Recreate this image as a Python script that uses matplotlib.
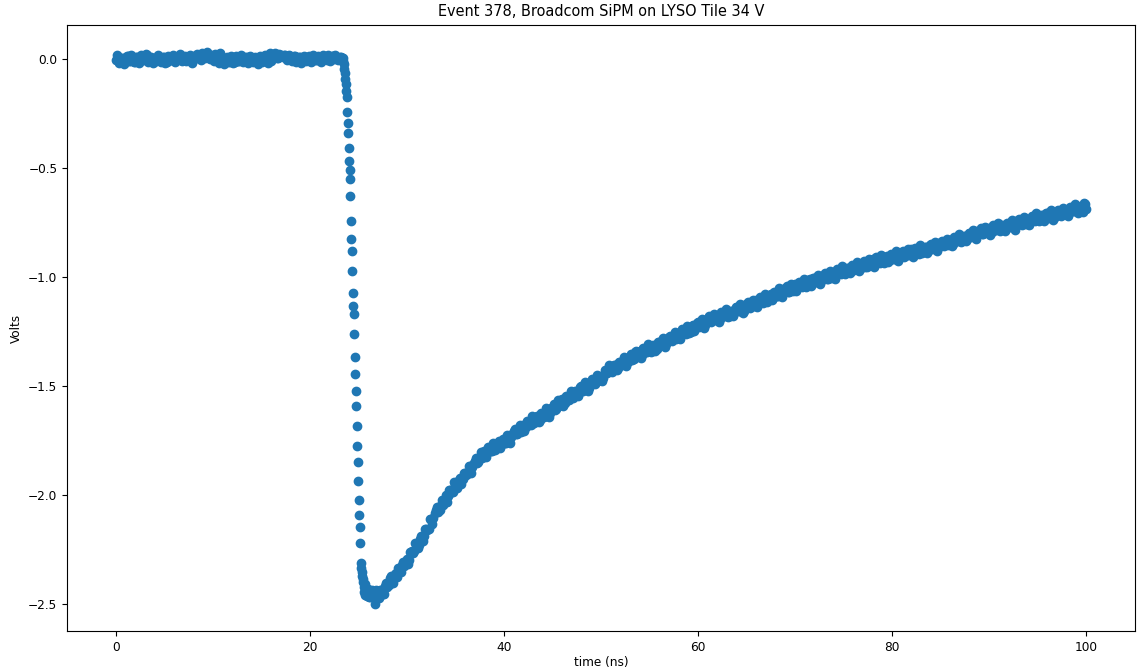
import numpy as np
import matplotlib
matplotlib.use("Agg")
import matplotlib.pyplot as plt

plt.rcParams["font.size"] = 8.7

# waveform samples (volts)
# flat baseline before the pulse, 0.25 ns steps from 0 ns
base_t0, base_dt = 0.0, 0.25
base_v = [
    -0.005, 0.010, -0.015, 0.005, -0.010, 0.012, -0.008, 0.003,
    -0.012, 0.008, -0.004, 0.015, 0.006, 0.018, -0.010, 0.004,
    -0.014, 0.002, 0.010, -0.006, 0.008, -0.012, 0.000, 0.006,
    -0.009, 0.004, 0.011, -0.003, 0.007, -0.010, 0.002, 0.009,
    -0.005, 0.012, 0.003, -0.007, 0.014, 0.004, 0.018, -0.002,
    0.010, 0.022, 0.012, 0.025, 0.005, -0.004, 0.008, -0.012,
    -0.005, -0.016, 0.003, -0.010, 0.006, -0.002, 0.009, -0.008,
    0.004, -0.006, 0.002, -0.013, 0.006, -0.004, 0.010, -0.018,
    -0.008, 0.005, 0.014, 0.004, 0.020, 0.008, 0.018, 0.002,
    0.015, 0.006, 0.012, -0.004, 0.010, 0.002, 0.008, -0.006,
    0.004, -0.009, 0.006, -0.003, 0.008, 0.000, 0.010, -0.004,
    0.006, 0.012, -0.002, 0.008, 0.003, 0.010,
]
# in-between baseline samples (0.125 ns offset)
base2_t0 = 0.125
base2_v = [
    0.020, -0.018, 0.006, -0.022, 0.014, -0.009, 0.019, -0.015, 0.008, -0.020,
    0.016, -0.004, 0.022, -0.012, 0.010, -0.019, 0.005, 0.017, -0.014, 0.009,
    -0.021, 0.013, -0.007, 0.018, -0.016, 0.003, 0.021, -0.011, 0.015, -0.006,
    0.019, -0.017, 0.012, 0.024, 0.008, 0.028, 0.016, 0.030, 0.010, 0.020,
    -0.008, 0.012, -0.020, -0.006, -0.024, 0.004, -0.015, 0.011, -0.018, 0.014,
    -0.010, 0.016, -0.013, 0.007, -0.021, 0.012, -0.016, 0.009, -0.022, 0.015,
    -0.012, 0.020, 0.010, 0.026, 0.014, 0.028, 0.006, 0.022, 0.012, 0.018,
    -0.006, 0.016, -0.010, 0.013, -0.014, 0.009, -0.017, 0.011, -0.008, 0.015,
    -0.012, 0.018, -0.005, 0.014, -0.016, 0.020, 0.004, 0.016, -0.010, 0.012,
    0.018, -0.006, 0.010,
]

# falling edge, 0.05 ns steps from 23.30 ns
edge_t0, edge_dt = 23.30, 0.05
edge_v = [
    0.004, -0.003, 0.002, -0.010, -0.025, -0.045, -0.065, -0.090, -0.115, -0.145,
    -0.177, -0.243, -0.292, -0.340, -0.409, -0.470, -0.508, -0.549, -0.630, -0.742,
    -0.824, -0.879, -0.971, -1.075, -1.131, -1.172, -1.261, -1.368, -1.445, -1.522,
    -1.591, -1.682, -1.774, -1.850, -1.937, -2.024, -2.093, -2.149, -2.218, -2.310,
    -2.335, -2.370, -2.355, -2.400, -2.385, -2.420, -2.445, -2.410, -2.460, -2.440,
    -2.425, -2.465, -2.450, -2.435,
]

# recovery tail, 0.25 ns steps from 26 ns
tail_t0, tail_dt = 26.0, 0.25
tail_v = [
    -2.430, -2.470, -2.455, -2.498, -2.470, -2.438, -2.455, -2.417,
    -2.422, -2.382, -2.391, -2.362, -2.374, -2.343, -2.322, -2.327,
    -2.294, -2.298, -2.259, -2.256, -2.226, -2.229, -2.186, -2.187,
    -2.157, -2.155, -2.110, -2.106, -2.068, -2.076, -2.045, -2.046,
    -2.002, -2.004, -1.976, -1.985, -1.953, -1.956, -1.920, -1.925,
    -1.897, -1.906, -1.869, -1.870, -1.843, -1.852, -1.826, -1.832,
    -1.796, -1.808, -1.786, -1.800, -1.774, -1.780, -1.752, -1.771,
    -1.751, -1.761, -1.730, -1.735, -1.708, -1.721, -1.699, -1.710,
    -1.679, -1.686, -1.667, -1.679, -1.646, -1.659, -1.640, -1.654,
    -1.625, -1.630, -1.608, -1.622, -1.599, -1.610, -1.581, -1.588,
    -1.562, -1.578, -1.556, -1.566, -1.534, -1.542, -1.521, -1.534,
    -1.501, -1.515, -1.494, -1.508, -1.480, -1.486, -1.463, -1.477,
    -1.453, -1.463, -1.430, -1.437, -1.412, -1.426, -1.405, -1.419,
    -1.389, -1.395, -1.373, -1.391, -1.369, -1.379, -1.346, -1.361,
    -1.341, -1.358, -1.334, -1.343, -1.317, -1.336, -1.316, -1.329,
    -1.299, -1.310, -1.291, -1.307, -1.276, -1.289, -1.269, -1.283,
    -1.255, -1.264, -1.243, -1.260, -1.238, -1.251, -1.222, -1.231,
    -1.207, -1.224, -1.205, -1.219, -1.189, -1.199, -1.180, -1.199,
    -1.179, -1.193, -1.164, -1.180, -1.161, -1.178, -1.154, -1.163,
    -1.137, -1.157, -1.139, -1.154, -1.125, -1.137, -1.119, -1.135,
    -1.104, -1.121, -1.104, -1.118, -1.090, -1.099, -1.078, -1.095,
    -1.073, -1.088, -1.060, -1.071, -1.049, -1.067, -1.050, -1.064,
    -1.034, -1.044, -1.026, -1.045, -1.024, -1.038, -1.009, -1.026,
    -1.007, -1.025, -1.003, -1.013, -0.989, -1.009, -0.991, -1.006,
    -0.977, -0.989, -0.971, -0.988, -0.958, -0.975, -0.959, -0.975,
    -0.948, -0.958, -0.939, -0.958, -0.937, -0.954, -0.928, -0.940,
    -0.919, -0.938, -0.921, -0.937, -0.909, -0.920, -0.902, -0.922,
    -0.902, -0.917, -0.888, -0.906, -0.888, -0.907, -0.886, -0.898,
    -0.874, -0.895, -0.878, -0.893, -0.865, -0.878, -0.861, -0.879,
    -0.850, -0.868, -0.852, -0.868, -0.842, -0.852, -0.833, -0.852,
    -0.831, -0.848, -0.822, -0.833, -0.812, -0.831, -0.813, -0.828,
    -0.799, -0.809, -0.790, -0.809, -0.789, -0.804, -0.776, -0.793,
    -0.776, -0.795, -0.774, -0.785, -0.761, -0.782, -0.765, -0.780,
    -0.753, -0.766, -0.750, -0.768, -0.740, -0.758, -0.742, -0.758,
    -0.732, -0.743, -0.724, -0.743, -0.723, -0.740, -0.715, -0.727,
    -0.707, -0.726, -0.710, -0.726, -0.699, -0.710, -0.693, -0.713,
    -0.694, -0.709, -0.681, -0.698, -0.681, -0.700, -0.675, -0.662,
    -0.688,
]
# in-between tail samples (0.125 ns offset)
tail2_t0 = 26.125
tail2_v = [
    -2.467, -2.437, -2.465, -2.436, -2.471, -2.436, -2.453, -2.404,
    -2.414, -2.370, -2.404, -2.360, -2.337, -2.354, -2.306, -2.316,
    -2.315, -2.260, -2.266, -2.220, -2.242, -2.200, -2.210, -2.156,
    -2.160, -2.109, -2.135, -2.084, -2.056, -2.071, -2.021, -2.031,
    -2.030, -1.975, -1.984, -1.942, -1.970, -1.932, -1.948, -1.899,
    -1.909, -1.865, -1.899, -1.855, -1.832, -1.849, -1.805, -1.822,
    -1.828, -1.781, -1.796, -1.760, -1.792, -1.760, -1.783, -1.744,
    -1.761, -1.723, -1.760, -1.719, -1.699, -1.722, -1.681, -1.701,
    -1.708, -1.661, -1.676, -1.640, -1.672, -1.640, -1.663, -1.624,
    -1.641, -1.603, -1.641, -1.603, -1.584, -1.607, -1.566, -1.586,
    -1.593, -1.546, -1.561, -1.525, -1.557, -1.525, -1.546, -1.505,
    -1.521, -1.483, -1.523, -1.487, -1.469, -1.492, -1.451, -1.471,
    -1.477, -1.427, -1.441, -1.405, -1.437, -1.405, -1.428, -1.389,
    -1.406, -1.368, -1.408, -1.372, -1.354, -1.377, -1.338, -1.360,
    -1.370, -1.325, -1.343, -1.309, -1.344, -1.314, -1.338, -1.299,
    -1.318, -1.282, -1.323, -1.287, -1.269, -1.292, -1.253, -1.275,
    -1.285, -1.240, -1.258, -1.224, -1.258, -1.226, -1.249, -1.209,
    -1.228, -1.192, -1.233, -1.197, -1.181, -1.207, -1.170, -1.194,
    -1.205, -1.162, -1.181, -1.148, -1.184, -1.154, -1.178, -1.139,
    -1.158, -1.124, -1.167, -1.132, -1.117, -1.143, -1.106, -1.128,
    -1.138, -1.094, -1.113, -1.079, -1.114, -1.084, -1.108, -1.069,
    -1.088, -1.052, -1.093, -1.058, -1.043, -1.070, -1.033, -1.055,
    -1.065, -1.022, -1.041, -1.008, -1.044, -1.016, -1.042, -1.004,
    -1.024, -0.990, -1.032, -0.998, -0.983, -1.010, -0.974, -0.997,
    -1.008, -0.964, -0.983, -0.950, -0.986, -0.958, -0.984, -0.946,
    -0.966, -0.932, -0.975, -0.940, -0.926, -0.953, -0.917, -0.941,
    -0.953, -0.910, -0.930, -0.898, -0.935, -0.907, -0.933, -0.896,
    -0.917, -0.883, -0.926, -0.893, -0.879, -0.906, -0.871, -0.896,
    -0.908, -0.865, -0.886, -0.854, -0.891, -0.863, -0.889, -0.852,
    -0.873, -0.839, -0.882, -0.848, -0.833, -0.860, -0.824, -0.847,
    -0.859, -0.816, -0.835, -0.803, -0.840, -0.811, -0.836, -0.798,
    -0.818, -0.783, -0.825, -0.791, -0.777, -0.804, -0.769, -0.793,
    -0.806, -0.763, -0.784, -0.752, -0.789, -0.761, -0.788, -0.751,
    -0.773, -0.739, -0.783, -0.749, -0.736, -0.763, -0.727, -0.751,
    -0.763, -0.720, -0.740, -0.708, -0.745, -0.717, -0.744, -0.707,
    -0.729, -0.695, -0.739, -0.705, -0.692, -0.719, -0.684, -0.708,
    -0.721, -0.678, -0.699, -0.667, -0.705, -0.677, -0.704, -0.667,
]

base_t = base_t0 + base_dt * np.arange(len(base_v))
base2_t = base2_t0 + base_dt * np.arange(len(base2_v))
edge_t = edge_t0 + edge_dt * np.arange(len(edge_v))
tail_t = tail_t0 + tail_dt * np.arange(len(tail_v))
tail2_t = tail2_t0 + tail_dt * np.arange(len(tail2_v))

time = np.concatenate([base_t, base2_t, edge_t, tail_t, tail2_t])
volts = np.concatenate([base_v, base2_v, edge_v, tail_v, tail2_v])
order = np.argsort(time)
time, volts = time[order], volts[order]

fig = plt.figure(figsize=(11.37, 6.70), dpi=100)
ax = fig.add_axes([0.059, 0.058, 0.939, 0.905])
ax.scatter(time, volts)
ax.set_title("Event 378, Broadcom SiPM on LYSO Tile 34 V")
ax.set_xlabel("time (ns)", labelpad=1.5)
ax.set_ylabel("Volts")

fig.savefig("out.png", dpi=100)
